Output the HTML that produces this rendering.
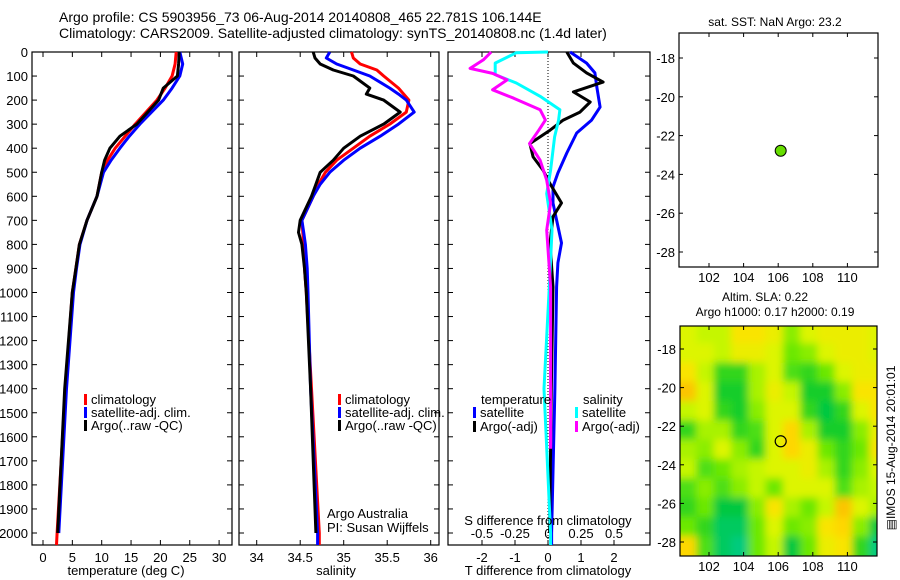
<!DOCTYPE html>
<html><head><meta charset="utf-8">
<style>
html,body{margin:0;padding:0;background:#fff;}
svg{display:block;font-family:"Liberation Sans",sans-serif;}
text{font-size:13px;fill:#000;}
</style></head>
<body>
<svg id="chart" width="900" height="580" viewBox="0 0 900 580" xmlns="http://www.w3.org/2000/svg">
<text x="59" y="22" style="font-size:14px">Argo profile: CS 5903956_73 06-Aug-2014 20140808_465 22.781S 106.144E</text>
<text x="59" y="38" style="font-size:14px">Climatology: CARS2009. Satellite-adjusted climatology: synTS_20140808.nc (1.4d later)</text>
<g id="g"></g>
</svg>
<script>
// ---- data ----
const tDepth = [0,50,100,150,200,300,350,400,450,500,600,700,800,900,1000,1400,2000,2050];
const tClim  = [22.7,22.5,22.0,20.8,19.4,15.7,14.0,12.3,11.0,10.0,9.2,7.5,6.2,5.6,5.0,3.8,2.4,2.3];
const tSat   = [23.3,23.8,23.3,22.0,20.5,16.5,14.7,13.1,11.6,10.3,9.2,7.5,6.3,5.7,5.2,4.0,2.7];
const tArgo  = [23.2,23.1,22.9,20.5,19.7,16.0,13.1,11.4,10.5,10.0,9.2,7.5,6.2,5.6,5.0,3.7,2.5];
const sDepth = [0,25,50,75,100,150,175,200,250,300,350,400,450,500,550,600,700,750,800,900,1000,1400,2000,2050];
const sClim  = [35.09,35.11,35.19,35.38,35.46,35.63,35.69,35.75,35.72,35.53,35.30,35.11,34.92,34.79,34.71,34.65,34.52,34.53,34.54,34.55,34.57,34.63,34.72,34.72];
const sSat   = [34.84,34.80,34.92,35.11,35.30,35.53,35.63,35.72,35.81,35.63,35.42,35.19,35.00,34.84,34.73,34.65,34.52,34.54,34.56,34.58,34.59,34.62,34.70,34.70];
const sArgo  = [34.65,34.67,34.73,34.88,35.11,35.30,35.26,35.46,35.65,35.46,35.19,35.00,34.88,34.73,34.68,34.63,34.50,34.48,34.52,34.55,34.57,34.62,34.68];
const dTdepth = [0,46,87,145,229,283,337,420,503,561,628,699,794,877,977,1400,2000,2050];
const dTsat   = [0.67,1.17,1.42,1.48,1.58,1.32,0.87,0.57,0.30,0.15,0.15,0.26,0.41,0.30,0.26,0.21,0.11,0.11];
const dTAdepth = [0,46,87,125,166,208,250,283,325,381,436,491,547,628,685,794,977,1400,2000];
const dTargo  = [0.57,0.77,1.17,1.67,0.77,1.28,0.97,0.46,0.06,-0.55,-0.45,-0.15,0.06,0.41,0.15,0.06,0.15,0.10,0.05];
const dSdepth = [0,3,46,94,129,184,240,283,353,491,589,741,977,1400,2000,2050];
const dSsat   = [0.0,-0.24,-0.40,-0.40,-0.24,-0.06,0.09,0.08,0.05,0.02,-0.01,0.03,0.01,-0.03,0.02,0.02];
const dSAdepth = [0,33,68,89,116,157,192,240,283,325,381,450,533,628,741,977,1400,1650];
const dSargo  = [-0.43,-0.49,-0.59,-0.42,-0.31,-0.42,-0.26,-0.06,-0.02,-0.07,-0.14,-0.06,-0.01,0.02,-0.01,0.02,0.02,0.02];
const depthTicks = [0,100,200,300,400,500,600,700,800,900,1000,1100,1200,1300,1400,1500,1600,1700,1800,1900,2000];
const tempTicks = [0,5,10,15,20,25,30];
const salTicks = [34,34.5,35,35.5,36];
const salTickLabels = ["34","34.5","35","35.5","36"];
const dTTicks = [-2,-1,0,1,2];
const dSTicks = [-0.5,-0.25,0,0.25,0.5];
const dSTickLabels = ["-0.5","-0.25","0","0.25","0.5"];
const lonTicks = [102,104,106,108,110];
const latTicks = [-18,-20,-22,-24,-26,-28];
const argoLon = [106.144];
const argoLat = [-22.781];
const slaLonStart = 100.27, slaLatStart = -16.7;
const slaGrid = [
[.6,.55,.55,.7,.7,.65,.45,.6,.65,.65,.65,.6],
[.6,.6,.55,.65,.65,.6,.4,.45,.6,.65,.65,.6],
[.7,.55,.3,.3,.5,.6,.35,.3,.4,.6,.65,.65],
[.8,.6,.25,.25,.5,.65,.55,.25,.25,.45,.7,.7],
[.55,.6,.3,.25,.45,.6,.6,.3,.2,.3,.6,.7],
[.3,.5,.5,.3,.35,.6,.75,.5,.25,.25,.45,.65],
[.5,.45,.6,.45,.3,.6,.75,.65,.4,.3,.4,.7],
[.55,.35,.4,.5,.55,.6,.6,.65,.5,.3,.45,.6],
[.35,.45,.35,.45,.55,.4,.6,.6,.6,.35,.5,.55],
[.3,.4,.2,.2,.45,.7,.5,.4,.55,.8,.6,.5],
[.4,.3,.15,.15,.4,.6,.4,.45,.7,.75,.45,.2],
[.75,.35,.15,.1,.4,.55,.2,.4,.65,.7,.3,.1]];

// ---- helpers ----
const NS="http://www.w3.org/2000/svg";
const G=document.getElementById('g');
function el(tag,attrs,parent,txt){const e=document.createElementNS(NS,tag);for(const k in attrs)e.setAttribute(k,attrs[k]);if(txt!==undefined)e.textContent=txt;(parent||G).appendChild(e);return e;}
const yD = d => 52 + d*0.2405;
const PT = {l:32,r:232}, PS={l:239,r:439}, PD={l:448,r:650};
const pTop=52, pBot=545;
const xT = v => 43 + v*5.87;
const xS = v => 256.7 + (v-34)*87;
const xDT = v => 548 + v*33;
const xDS = v => 548 + v*132;

function frame(p,name){
  const r=el('rect',{x:p.l,y:pTop,width:p.r-p.l,height:pBot-pTop,fill:'none',stroke:'#000','stroke-width':1.2});
  
  
  depthTicks.forEach(d=>{const y=yD(d);el('line',{x1:p.l,x2:p.l+5,y1:y,y2:y,stroke:'#000'});el('line',{x1:p.r,x2:p.r-5,y1:y,y2:y,stroke:'#000'});});
}
function xticks(p,ticks,fx,labels,ly){
  ticks.forEach((t,i)=>{const x=fx(t);el('line',{x1:x,x2:x,y1:pBot,y2:pBot-5,stroke:'#000'});el('line',{x1:x,x2:x,y1:pTop,y2:pTop+5,stroke:'#000'});
    if(labels){const tx=el('text',{x:x,y:ly,'text-anchor':'middle'},G,labels[i]);
      
      }});
}
function line(depths,vals,fx,color,name){
  const pts=vals.map((v,i)=>fx(v).toFixed(1)+','+yD(depths[i]).toFixed(1)).join(' ');
  const pl=el('polyline',{points:pts,fill:'none',stroke:color,'stroke-width':3,'stroke-linejoin':'round'});
  
  
}
function legend(x,y,color,label,name){
  el('rect',{x:x,y:y-10,width:3,height:11,fill:color});
  const t=el('text',{x:x+7,y:y},G,label);
  
  
}
function label(x,y,txt,name,extra){
  const a=Object.assign({x:x,y:y},extra||{});
  const t=el('text',a,G,txt);
  
  
  return t;
}

// panel 1
frame(PT,'temperature-panel');
depthTicks.forEach(d=>{label(28,yD(d)+5,String(d),'depth-tick-label',{'text-anchor':'end'});});
xticks(PT,tempTicks,xT,tempTicks.map(String),562);
line(tDepth,tClim,xT,'#ff0000','temp-climatology-line');
line(tDepth.slice(0,tSat.length),tSat,xT,'#0000ff','temp-satellite-line');
line(tDepth.slice(0,tArgo.length),tArgo,xT,'#000000','temp-argo-line');
legend(84,404,'#ff0000','climatology','legend-climatology');
legend(84,417,'#0000ff','satellite-adj. clim.','legend-satellite');
legend(84,430,'#000000','Argo(..raw -QC)','legend-argo');
label(126,575,'temperature (deg C)','x-axis-title-temperature',{'text-anchor':'middle'});

// panel 2
frame(PS,'salinity-panel');
xticks(PS,salTicks,xS,salTickLabels,562);
line(sDepth,sClim,xS,'#ff0000','sal-climatology-line');
line(sDepth,sSat,xS,'#0000ff','sal-satellite-line');
line(sDepth.slice(0,sArgo.length),sArgo,xS,'#000000','sal-argo-line');
legend(338,404,'#ff0000','climatology','legend-climatology-2');
legend(338,417,'#0000ff','satellite-adj. clim.','legend-satellite-2');
legend(338,430,'#000000','Argo(..raw -QC)','legend-argo-2');
label(336,575,'salinity','x-axis-title-salinity',{'text-anchor':'middle'});
label(327,518,'Argo Australia','credit-argo-australia');
label(327,532,'PI: Susan Wijffels','credit-pi');

// panel 3
frame(PD,'difference-panel');
el('line',{x1:xDT(0),x2:xDT(0),y1:pTop,y2:pBot,stroke:'#000','stroke-dasharray':'1,2'});
xticks(PD,dTTicks,xDT,dTTicks.map(String),562);
dSTicks.forEach((t,i)=>{label(xDS(t),538,dSTickLabels[i],'s-diff-tick-label',{'text-anchor':'middle'});});
line(dTdepth,dTsat,xDT,'#0000ff','tdiff-satellite-line');
line(dTAdepth,dTargo,xDT,'#000000','tdiff-argo-line');
line(dSdepth,dSsat,xDS,'#00ffff','sdiff-satellite-line');
line(dSAdepth,dSargo,xDS,'#ff00ff','sdiff-argo-line');
label(481,404,'temperature','legend-title-temperature');
label(583,404,'salinity','legend-title-salinity');
legend(473,417,'#0000ff','satellite','legend-t-satellite');
legend(473,431,'#000000','Argo(-adj)','legend-t-argo');
legend(575,417,'#00ffff','satellite','legend-s-satellite');
legend(575,431,'#ff00ff','Argo(-adj)','legend-s-argo');
label(548,525,'S difference from climatology','s-diff-axis-title',{'text-anchor':'middle'});
label(548,575,'T difference from climatology','t-diff-axis-title',{'text-anchor':'middle'});

// maps
function makeMap(m){
  m.lx = v => 709 + (v-102)*17.3;
  m.ly = v => m.y18 + (-18 - v)*m.dlat;
  return m;
}
function mapAxes(m){
  const r=el('rect',{x:m.l,y:m.t,width:m.r-m.l,height:m.b-m.t,fill:'none',stroke:'#000','stroke-width':1.2});
  
  
  lonTicks.forEach(v=>{const x=m.lx(v);el('line',{x1:x,x2:x,y1:m.b,y2:m.b-4,stroke:'#000'});el('line',{x1:x,x2:x,y1:m.t,y2:m.t+4,stroke:'#000'});
    label(x,m.b+15,String(v),'lon-tick-label',{'text-anchor':'middle'});});
  latTicks.forEach(v=>{const y=m.ly(v);el('line',{x1:m.l,x2:m.l+4,y1:y,y2:y,stroke:'#000'});el('line',{x1:m.r,x2:m.r-4,y1:y,y2:y,stroke:'#000'});
    label(m.l-4,y+5,String(v),'lat-tick-label',{'text-anchor':'end'});});
}
const m1=makeMap({l:679,r:878,t:33,b:267,y18:58,dlat:19.4,name:'sst-map'});
const m2=makeMap({l:680,r:877,t:326,b:556,y18:349,dlat:19.3,name:'sla-map'});

// SLA heatmap
const defs=el('defs',{});
const cp=el('clipPath',{id:'clip2'},defs);
el('rect',{x:m2.l,y:m2.t,width:m2.r-m2.l,height:m2.b-m2.t},cp);
const flt=el('filter',{id:'blur',x:'-10%',y:'-10%',width:'120%',height:'120%'},defs);
el('feGaussianBlur',{stdDeviation:4},flt);
function cmap(v){
  const stops=[[0,[0,205,190]],[0.22,[0,200,50]],[0.42,[120,235,0]],[0.58,[215,248,0]],[0.72,[255,225,0]],[0.88,[248,170,0]]];
  for(let i=0;i<stops.length-1;i++){const a=stops[i],b=stops[i+1];if(v<=b[0]||i==stops.length-2){const f=Math.max(0,Math.min(1,(v-a[0])/(b[0]-a[0])));return 'rgb('+a[1].map((c,k)=>Math.round(c+(b[1][k]-c)*f)).join(',')+')';}}
}
const hg=el('g',{'clip-path':'url(#clip2)'});


el('rect',{x:m2.l,y:m2.t,width:m2.r-m2.l,height:m2.b-m2.t,fill:'#c8f000'},hg);
const inner=el('g',{filter:'url(#blur)'},hg);
slaGrid.forEach((row,ri)=>row.forEach((v,ci)=>{
  const x0=m2.lx(slaLonStart+ci), x1=m2.lx(slaLonStart+ci+1);
  const y0=m2.ly(slaLatStart-ri), y1=m2.ly(slaLatStart-ri-1);
  const pad = 10;
  const c=el('rect',{x:x0-(ci==0?pad:0),y:y0-(ri==0?pad:0),width:x1-x0+(ci==0||ci==11?pad:0)+0.5,height:y1-y0+(ri==0||ri==11?pad:0)+0.5,fill:cmap(v)},inner);
  
  
}));
mapAxes(m1);mapAxes(m2);
argoLon.forEach((lo,i)=>{
  const c=el('circle',{cx:m1.lx(lo),cy:m1.ly(argoLat[i]),r:5.5,fill:'#66dd00',stroke:'#000','stroke-width':1});
  
  
  const c2=el('circle',{cx:m2.lx(lo),cy:m2.ly(argoLat[i]),r:5.5,fill:'none',stroke:'#000','stroke-width':1.2});
  
  
});
label(775,26,'sat. SST: NaN Argo: 23.2','sst-map-title',{'text-anchor':'middle',style:'font-size:12px'});
label(765,301,'Altim. SLA: 0.22','sla-map-title',{'text-anchor':'middle',style:'font-size:12px'});
label(775,316,'Argo h1000: 0.17 h2000: 0.19','sla-map-subtitle',{'text-anchor':'middle',style:'font-size:12px'});
label(0,0,'\u25A4IMOS 15-Aug-2014 20:01:01','imos-timestamp',{'text-anchor':'middle',transform:'translate(895,448) rotate(-90)',style:'font-size:12px'});
</script>
</body></html>
